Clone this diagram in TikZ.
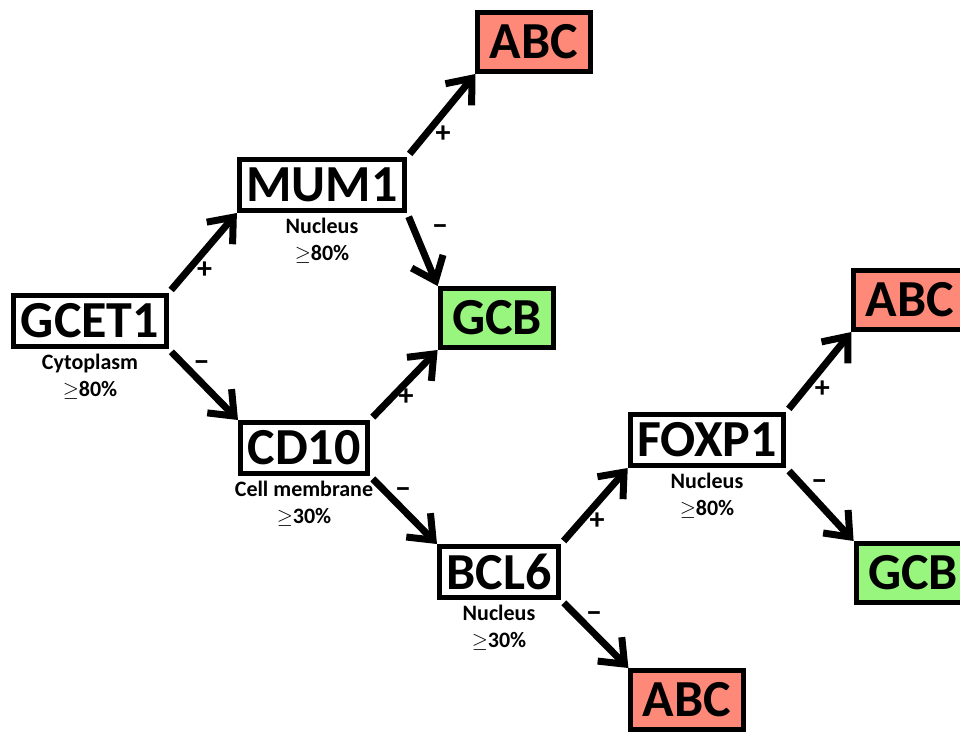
\documentclass[tikz,border=0pt]{standalone}
\usepackage{fontspec}
\setmainfont{Carlito}
\usetikzlibrary{arrows.meta,positioning}
\definecolor{abcred}{RGB}{255,137,120}
\definecolor{gcbgreen}{RGB}{152,246,126}
\newcommand{\atleast}{\ensuremath{\geq}}
\begin{document}
\begin{tikzpicture}
            [
                x = 1pt,
                y = -1pt,
                gene/.style={
                    draw,
                    fill = white,
                    line width = 5pt,
                    inner xsep = 7pt,
                    minimum height = 51pt,
                    font = \fontsize{52}{52}\selectfont\bfseries
                },
                result/.style={gene, inner xsep = 12pt, minimum height = 59pt},
                abc/.style={result, fill = abcred},
                gcb/.style={result, fill = gcbgreen},
                note/.style={
                    align = center,
                    inner sep = 0pt,
                    font = \fontsize{22}{26.5}\selectfont\bfseries
                },
                link/.style={
                    line width = 7pt,
                    shorten <= 4pt,
                    -{Straight Barb[length = 21pt, width = 34pt]}
                },
                sign/.style={pos = 0, inner sep = 0pt, font = \fontsize{30}{30}\selectfont\bfseries},
                upsign/.style={sign, xshift = 36pt, yshift = 23pt},
                downsign/.style={sign, xshift = 33pt, yshift = -17pt},
            ]

                \useasboundingbox (0,0) rectangle (960,736);
                \clip (0,0) rectangle (960,736);

                \node [gene] (gcet) at (90,321) {GCET1};
                \node [gene] (mum) at (322,185) {MUM1};
                \node [gene] (cd) at (304,448) {CD10};
                \node [gene] (bcl) at (499,572) {BCL6};
                \node [gene] (foxp) at (707,440) {FOXP1};

                \node [abc] (abcA) at (534,42) {ABC};
                \node [gcb] (gcbA) at (497,318) {GCB};
                \node [abc] (abcB) at (910,300) {ABC};
                \node [gcb] (gcbB) at (913,573) {GCB};
                \node [abc] (abcC) at (687,700) {ABC};

                \node [note, below = 5pt of gcet] {Cytoplasm\\\atleast80\%};
                \node [note, below = 5pt of mum] {Nucleus\\\atleast80\%};
                \node [note, below = 5pt of cd] {Cell membrane\\\atleast30\%};
                \node [note, below = 5pt of bcl] {Nucleus\\\atleast30\%};
                \node [note, below = 5pt of foxp] {Nucleus\\\atleast80\%};

                \draw [link] (gcet.north east) -- (mum.south west) node [upsign] {+};
                \draw [link] (gcet.south east) -- (cd.north west) node [downsign] {−};
                \draw [link] (mum.north east) -- (abcA.south west) node [upsign] {+};
                \draw [link] (mum.south east) -- (gcbA.north west) node [downsign] {−};
                \draw [link] (cd.north east) -- (gcbA.south west) node [upsign] {+};
                \draw [link] (cd.south east) -- (bcl.north west) node [downsign] {−};
                \draw [link] (bcl.north east) -- (foxp.south west) node [upsign] {+};
                \draw [link] (bcl.south east) -- (abcC.north west) node [downsign] {−};
                \draw [link] (foxp.north east) -- (abcB.south west) node [upsign] {+};
                \draw [link] (foxp.south east) -- (gcbB.north west) node [downsign] {−};
            \end{tikzpicture}
\end{document}
